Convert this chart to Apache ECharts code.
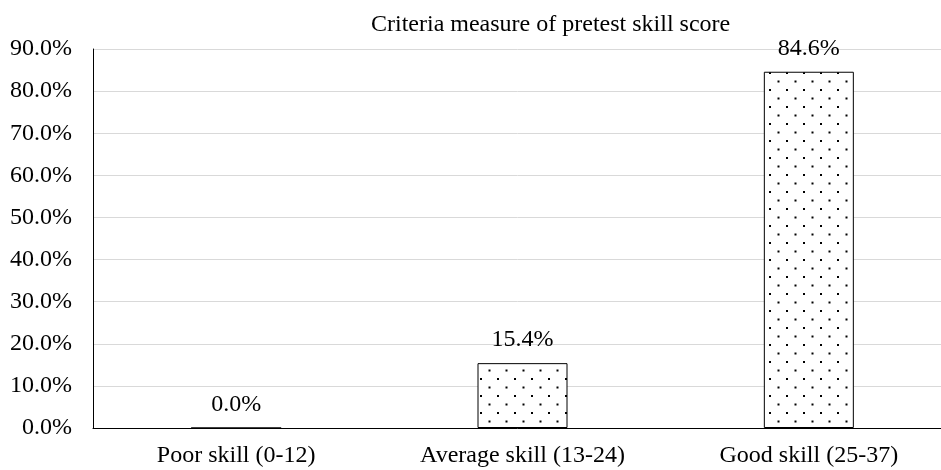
<!DOCTYPE html>
<html>
<head>
<meta charset="utf-8">
<script src="https://cdn.jsdelivr.net/npm/echarts@6/dist/echarts.min.js"></script>
<style>
  html, body { margin: 0; padding: 0; background: #fff; }
  #chart { width: 941px; height: 470px; }
</style>
</head>
<body>
<div id="chart"></div>
<script>
const categories = ['Poor skill (0-12)', 'Average skill (13-24)', 'Good skill (25-37)'];
const scores = [0.0, 15.4, 84.6];
const yTicks = [0, 10, 20, 30, 40, 50, 60, 70, 80, 90];

// dotted fill like the office chart pattern
function dotPattern() {
    const c = document.createElement('canvas');
    c.width = 17; c.height = 17;
    const ctx = c.getContext('2d');
    ctx.fillStyle = '#fff';
    ctx.fillRect(0, 0, 17, 17);
    ctx.fillStyle = '#000';
    ctx.fillRect(4, 4, 2, 2);
    ctx.fillRect(12.5, 12.5, 2, 2);
    return c;
}

const myChart = echarts.init(document.getElementById('chart'));
const font = '"Liberation Serif", "Times New Roman", serif';

const option = {
    backgroundColor: '#fff',
    animation: false,
    textStyle: { fontFamily: font, color: '#000' },
    title: {
        text: 'Criteria measure of pretest skill score',
        left: 366,
        top: 8,
        textStyle: { fontFamily: font, fontSize: 24, fontWeight: 'normal', color: '#000' }
    },
    // plot runs a little past the right edge, like the cropped original
    grid: { left: 93, width: 859, top: 49, bottom: 42, outerBoundsMode: 'none', containLabel: false },
    xAxis: {
        type: 'category',
        data: categories,
        axisLine: { lineStyle: { color: '#000', width: 1 } },
        axisTick: { show: false },
        axisLabel: { fontFamily: font, fontSize: 24, color: '#000', margin: 16 }
    },
    yAxis: {
        type: 'value',
        min: yTicks[0],
        max: yTicks[yTicks.length - 1],
        interval: 10,
        axisLine: { show: true, lineStyle: { color: '#000', width: 1 } },
        axisTick: { show: false },
        splitLine: { lineStyle: { color: '#d9d9d9', width: 1 } },
        axisLabel: {
            fontFamily: font, fontSize: 24, color: '#000', margin: 21,
            formatter: v => v.toFixed(1) + '%'
        }
    },
    series: [{
        type: 'bar',
        data: scores,
        barWidth: 90,
        itemStyle: {
            color: { image: dotPattern(), repeat: 'repeat' },
            borderColor: '#000',
            borderWidth: 1
        },
        label: {
            show: true,
            position: 'top',
            distance: 11,
            fontFamily: font,
            fontSize: 24,
            color: '#000',
            formatter: p => p.value.toFixed(1) + '%'
        }
    }]
};

myChart.setOption(option);
window.addEventListener('resize', function () {
    myChart.resize();
});
</script>
</body>
</html>
